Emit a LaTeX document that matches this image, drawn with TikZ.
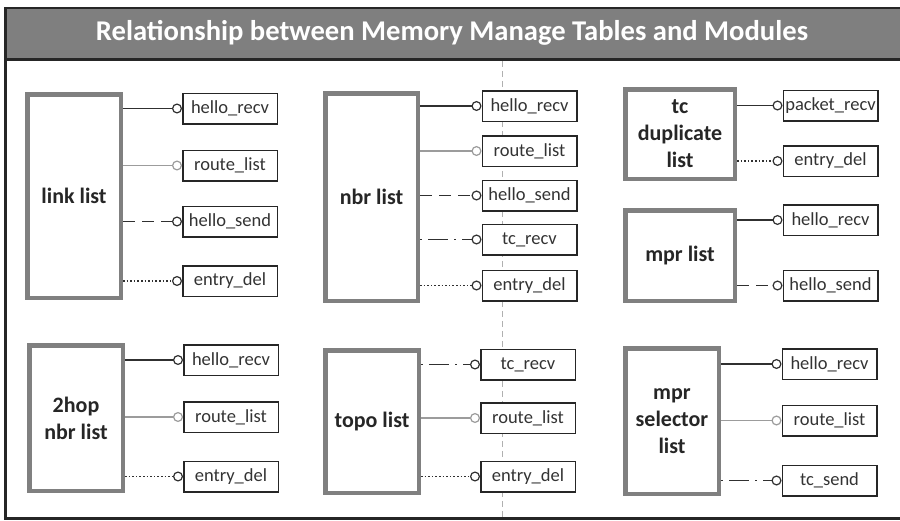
\documentclass[tikz,border=0pt]{standalone}
\usepackage{fontspec}
\setmainfont{Carlito}
\usetikzlibrary{arrows.meta}

\definecolor{framegray}{HTML}{262626}
\definecolor{bargray}{HTML}{7F7F7F}
\definecolor{tablegray}{HTML}{808080}
\definecolor{linkdark}{HTML}{303030}
\definecolor{linklight}{HTML}{9C9C9C}
\definecolor{guidegray}{HTML}{B0B0B0}

\tikzset{
  tablebox/.style={draw=tablegray, line width=4.5pt, fill=white, align=center,
    inner sep=2pt, font=\bfseries\fontsize{22}{27}\selectfont, text=black!85},
  modbox/.style={draw=framegray, line width=1.5pt, fill=white, inner sep=0pt,
    minimum width=94.5pt, minimum height=30.5pt,
    font=\fontsize{18.5}{22}\selectfont, text=black!80},
  plug/.style={-{Circle[open, length=10pt, width=10pt, line width=1.2pt, fill=white]}},
  recvlink/.style={plug, draw=linkdark, line width=1.5pt},
  routelink/.style={plug, draw=linklight, line width=1.8pt},
  sendlink/.style={plug, draw=linkdark, line width=1.5pt, dash pattern=on 12pt off 7pt},
  tclink/.style={plug, draw=linkdark, line width=1.5pt, dash pattern=on 2pt off 6pt on 20pt off 6pt},
  dellink/.style={plug, draw=linkdark, line width=1.3pt, dash pattern=on 1.6pt off 2pt},
}

\begin{document}
\begin{tikzpicture}[x=1pt, y=-1pt]
  \useasboundingbox (0,0) rectangle (900,520);
  \clip (0,0) rectangle (900,520);

  % outer frame and title bar
  \draw[framegray, line width=2.5pt] (5.5,8) rectangle (915,518.5);
  \draw[framegray, line width=2.5pt, fill=bargray] (5.5,8) rectangle (915,59.5);
  \node[text=white, font=\bfseries\fontsize{28.6}{34}\selectfont] (title) at (452,33)
    {Relationship between Memory Manage Tables and Modules};

  % dashed guide line between the middle and right columns
  \coordinate (guidetop) at (502,61);
  \coordinate (guidebot) at (502,517);
  \draw[guidegray, line width=0.9pt, dash pattern=on 6pt off 4pt] (guidetop) -- (guidebot);

  % tables
  \node[tablebox, minimum width=93.5pt, minimum height=203.5pt] (link) at (74,196) {link list};
  \node[tablebox, minimum width=92.5pt, minimum height=207.5pt] (nbr) at (371.5,197) {nbr list};
  \node[tablebox, minimum width=109.5pt, minimum height=89.5pt] (tcdup) at (680,134) {tc\\duplicate\\list};
  \node[tablebox, minimum width=109.5pt, minimum height=90.5pt] (mpr) at (680,255.5) {mpr list};
  \node[tablebox, minimum width=93.5pt, minimum height=145.5pt] (twohop) at (76,418) {2hop\\nbr list};
  \node[tablebox, minimum width=93.5pt, minimum height=142.5pt] (topo) at (372,421.5) {topo list};
  \node[tablebox, minimum width=93.5pt, minimum height=145.5pt] (mprsel) at (672,421) {mpr\\selector\\list};

  % modules: link list
  \node[modbox] (la) at (230,108.5) {hello\_recv};
  \node[modbox] (lb) at (230,165.5) {route\_list};
  \node[modbox] (lc) at (230,221.5) {hello\_send};
  \node[modbox] (ld) at (230,281) {entry\_del};
  % modules: nbr list
  \node[modbox] (na) at (529.5,106) {hello\_recv};
  \node[modbox] (nb) at (529.5,151) {route\_list};
  \node[modbox] (nc) at (529.5,195.5) {hello\_send};
  \node[modbox] (nd) at (529.5,239.5) {tc\_recv};
  \node[modbox] (ne) at (529.5,285.5) {entry\_del};
  % modules: tc duplicate list
  \node[modbox] (ta) at (830.5,105.5) {packet\_recv};
  \node[modbox] (tb) at (830.5,161) {entry\_del};
  % modules: mpr list
  \node[modbox] (ma) at (830.5,220) {hello\_recv};
  \node[modbox] (mb) at (830.5,285.5) {hello\_send};
  % modules: 2hop nbr list
  \node[modbox] (ha) at (231,360) {hello\_recv};
  \node[modbox] (hb) at (231,417) {route\_list};
  \node[modbox] (hc) at (231,476.5) {entry\_del};
  % modules: topo list
  \node[modbox] (pa) at (528,364.5) {tc\_recv};
  \node[modbox] (pb) at (528,418) {route\_list};
  \node[modbox] (pc) at (528,476.5) {entry\_del};
  % modules: mpr selector list
  \node[modbox] (sa) at (829.5,364) {hello\_recv};
  \node[modbox] (sb) at (829.5,420.5) {route\_list};
  \node[modbox] (sc) at (829.5,480.5) {tc\_send};

  % table -> module links
  \draw[recvlink]  (link.east |- la.west) -- (la.west);
  \draw[routelink] (link.east |- lb.west) -- (lb.west);
  \draw[sendlink]  (link.east |- lc.west) -- (lc.west);
  \draw[dellink]   (link.east |- ld.west) -- (ld.west);

  \draw[recvlink]  (nbr.east |- na.west) -- (na.west);
  \draw[routelink] (nbr.east |- nb.west) -- (nb.west);
  \draw[sendlink]  (nbr.east |- nc.west) -- (nc.west);
  \draw[tclink]    (nbr.east |- nd.west) -- (nd.west);
  \draw[dellink]   (nbr.east |- ne.west) -- (ne.west);

  \draw[recvlink]  (tcdup.east |- ta.west) -- (ta.west);
  \draw[dellink]   (tcdup.east |- tb.west) -- (tb.west);

  \draw[recvlink]  (mpr.east |- ma.west) -- (ma.west);
  \draw[sendlink]  (mpr.east |- mb.west) -- (mb.west);

  \draw[recvlink]  (twohop.east |- ha.west) -- (ha.west);
  \draw[routelink] (twohop.east |- hb.west) -- (hb.west);
  \draw[dellink]   (twohop.east |- hc.west) -- (hc.west);

  \draw[tclink]    (topo.east |- pa.west) -- (pa.west);
  \draw[routelink] (topo.east |- pb.west) -- (pb.west);
  \draw[dellink]   (topo.east |- pc.west) -- (pc.west);

  \draw[recvlink]  (mprsel.east |- sa.west) -- (sa.west);
  \draw[routelink] (mprsel.east |- sb.west) -- (sb.west);
  \draw[tclink]    (mprsel.east |- sc.west) -- (sc.west);
\end{tikzpicture}
\end{document}
